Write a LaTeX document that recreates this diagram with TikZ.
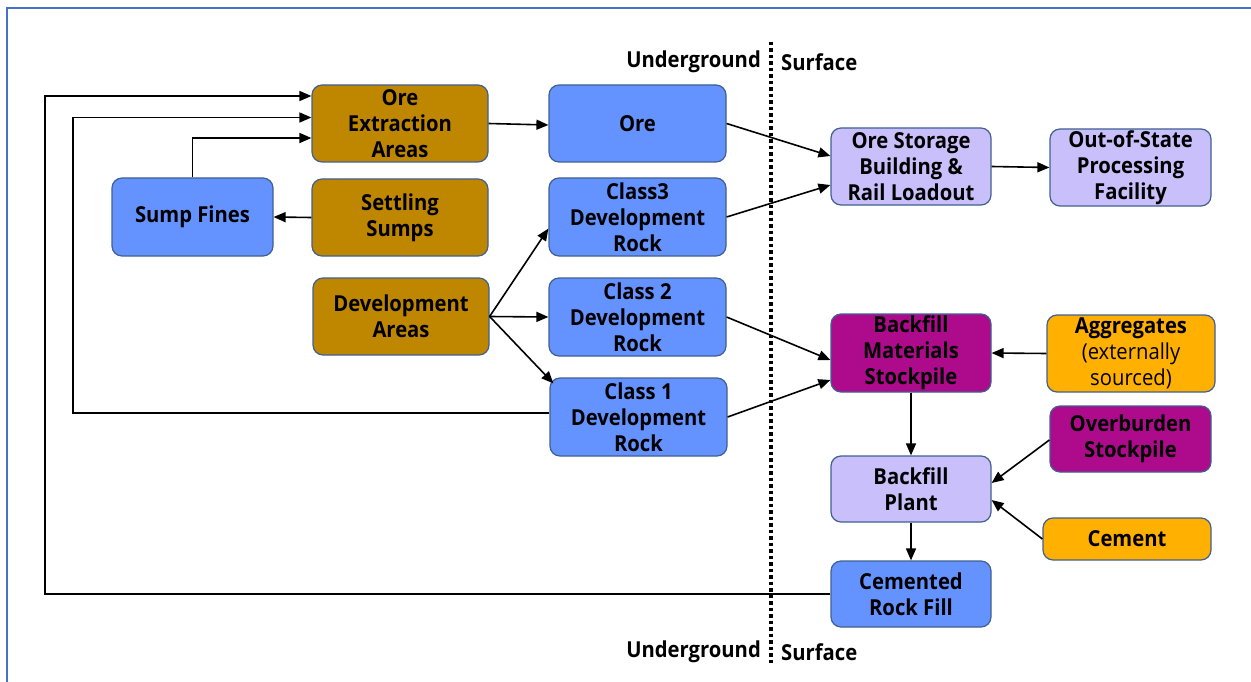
\documentclass[tikz,border=0pt]{standalone}
\usepackage{fontspec}
\setmainfont{Open Sans}[FakeStretch=0.92]
\usetikzlibrary{arrows.meta,calc}
\definecolor{cgold}{RGB}{191,135,0}
\definecolor{cblue}{RGB}{100,146,255}
\definecolor{clav}{RGB}{201,191,250}
\definecolor{cpurp}{RGB}{174,10,140}
\definecolor{corange}{RGB}{255,176,0}
\definecolor{cedge}{RGB}{64,96,145}
\definecolor{cframe}{RGB}{68,114,196}
\begin{document}
\begin{tikzpicture}[x=1pt,y=-1pt,
  box/.style={draw=cedge,line width=1.2pt,rounded corners=10pt,inner sep=0pt,align=center,
    font=\fontsize{22}{26.2}\selectfont\bfseries},
  gold/.style={box,fill=cgold},
  blue/.style={box,fill=cblue},
  lav/.style={box,fill=clav},
  purp/.style={box,fill=cpurp},
  orng/.style={box,fill=corange},
  arr/.style={line width=1.6pt,-{Triangle[length=12pt,width=10pt]}},
  lbl/.style={font=\fontsize{22}{26}\selectfont\bfseries,inner sep=0pt}]
\useasboundingbox (0,0) rectangle (1251,682);
\draw[cframe,line width=2pt] (7,690) -- (7,8) -- (1260,8);
% divider
\draw[line width=3.5pt,dash pattern=on 3.5pt off 3pt] (771,42) -- (771,666);
\node[lbl,anchor=east] (ug1) at (761,62) {Underground};
\node[lbl,anchor=west] (sf1) at (781,62) {Surface};
\node[lbl,anchor=east] (ug2) at (761,652) {Underground};
\node[lbl,anchor=west] (sf2) at (781,652) {Surface};
% nodes
\node[gold,minimum width=176pt,minimum height=77pt] (oea) at (400,123.5) {Ore\\Extraction\\Areas};
\node[blue,minimum width=177pt,minimum height=77pt] (ore) at (637.5,123.5) {Ore};
\node[blue,minimum width=161pt,minimum height=78pt] (sump) at (192.5,217) {Sump Fines};
\node[gold,minimum width=176pt,minimum height=77pt] (settle) at (400,217.5) {Settling\\Sumps};
\node[blue,minimum width=177pt,minimum height=78pt] (c3) at (637.5,217) {Class3\\Development\\Rock};
\node[gold,minimum width=176pt,minimum height=77pt] (dev) at (401,316.5) {Development\\Areas};
\node[blue,minimum width=177pt,minimum height=78pt] (c2) at (637.5,317) {Class 2\\Development\\Rock};
\node[blue,minimum width=177pt,minimum height=78pt] (c1) at (638.5,417) {Class 1\\Development\\Rock};
\node[lav,minimum width=160pt,minimum height=77pt] (osb) at (911,166.5) {Ore Storage\\Building \&\\Rail Loadout};
\node[lav,minimum width=161pt,minimum height=77pt] (oos) at (1130.5,167.5) {Out-of-State\\Processing\\Facility};
\node[purp,minimum width=160pt,minimum height=78pt] (bms) at (911,353) {Backfill\\Materials\\Stockpile};
\node[orng,minimum width=168pt,minimum height=77pt] (agg) at (1131,353.5) {Aggregates\\{\mdseries(externally}\\{\mdseries sourced)}};
\node[purp,minimum width=161pt,minimum height=66pt] (ovb) at (1130.5,439) {Overburden\\Stockpile};
\node[lav,minimum width=160pt,minimum height=66pt] (bp) at (911,489) {Backfill\\Plant};
\node[orng,minimum width=168pt,minimum height=42pt] (cem) at (1127,539) {Cement};
\node[blue,minimum width=160pt,minimum height=66pt] (crf) at (911,594) {Cemented\\Rock Fill};
% helper coordinates for loops
\coordinate (lx1) at (45,0);
\coordinate (lx2) at (73,0);
% connectors
\draw[arr] (crf.west) -- (crf.west -| lx1) |- ($(oea.west)+(0,-27.5)$);
\draw[arr] ($(c1.west)+(0,-4)$) -- ($(c1.west -| lx2)+(0,-4)$) |- ($(oea.west)+(0,-6)$);
\draw[arr] (sump.north) |- ($(oea.west)+(0,14.5)$);
\draw[arr] (settle.west) -- (sump.east);
\draw[arr] (oea.east) -- ($(ore.west)+(0,1.5)$);
\draw[arr] (ore.east) -- ($(osb.west)+(0,-10.5)$);
\draw[arr] (c3.east) -- ($(osb.west)+(0,18.5)$);
\draw[arr] (dev.east) -- ($(c3.south west)+(0,-28)$);
\draw[arr] (dev.east) -- (c2.west);
\draw[arr] (dev.east) -- ($(c1.north west)+(4,6)$);
\draw[arr] (c2.east) -- ($(bms.west)+(0,7)$);
\draw[arr] (c1.east) -- ($(bms.west)+(0,27)$);
\draw[arr] (osb.east) -- (oos.west);
\draw[arr] (agg.west) -- (bms.east);
\draw[arr] (bms.south) -- (bp.north);
\draw[arr] ($(ovb.west)+(0,1)$) -- ($(bp.east)+(0,-6)$);
\draw[arr] (cem.west) -- ($(bp.east)+(0,11)$);
\draw[arr] (bp.south) -- (crf.north);
\end{tikzpicture}
\end{document}
